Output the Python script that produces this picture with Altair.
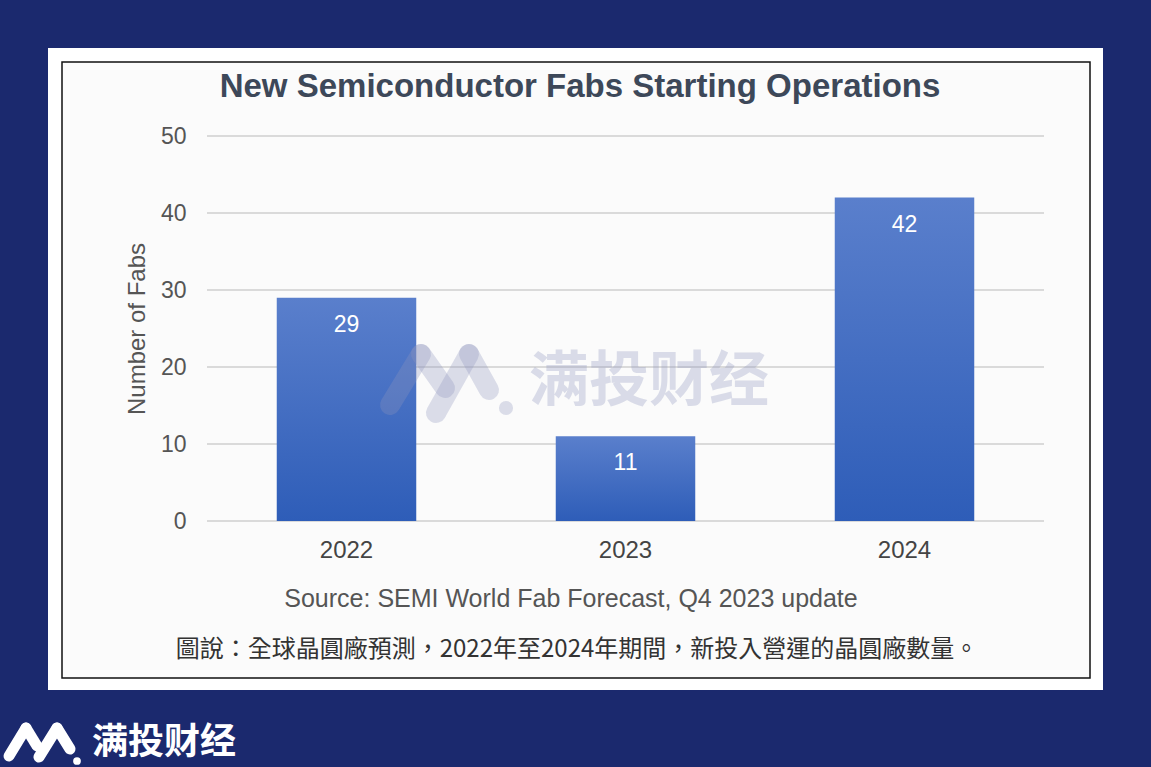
import altair as alt
import pandas as pd

# ---------------- data ----------------
years = ["2022", "2023", "2024"]
fabs = [29, 11, 42]
y_ticks = [0, 10, 20, 30, 40, 50]
title_text = "New Semiconductor Fabs Starting Operations"
y_title = "Number of Fabs"
source_text = "Source: SEMI World Fab Forecast, Q4 2023 update"
caption_text = "圖說：全球晶圓廠預測，2022年至2024年期間，新投入營運的晶圓廠數量。"
brand_text = "满投财经"

df = pd.DataFrame({"year": years, "fabs": fabs})
grid_df = pd.DataFrame({"v": y_ticks})
one = pd.DataFrame({"k": [0]})

# ---------------- layout ----------------
W, H = 837, 385          # plot area
OX, OY = 207, 136        # plot origin in the page
EN = "Liberation Sans"
CJK_TC = "Noto Sans CJK TC"
CJK_SC = "Noto Sans CJK SC"


def px(x):
    return x - OX


def py(y):
    return y - OY


xscale = alt.Scale(domain=years, paddingInner=0.5, paddingOuter=0.25)
yscale = alt.Scale(domain=[0, 50], nice=False)

yaxis = alt.Axis(values=y_ticks, grid=False, domain=False, ticks=False, zindex=1,
                 labelFont=EN, labelFontSize=23, labelColor="#555555", labelPadding=21,
                 title=y_title, titleFont=EN, titleFontSize=24, titleFontWeight="normal",
                 titleColor="#555555", titleX=-70, titleY=H / 2, titleAngle=270,
                 titleAlign="center", titleBaseline="middle")
xaxis = alt.Axis(domain=False, ticks=False, zindex=1, labelAngle=0, title=None,
                 labelFont=EN, labelFontSize=24, labelColor="#444444", labelPadding=17)


def rect(x0, y0, x1, y1, **kw):
    return alt.Chart(one).mark_rect(**kw).encode(
        x=alt.value(px(x0)), x2=alt.value(px(x1)),
        y=alt.value(py(y0)), y2=alt.value(py(y1)))


def stroke(x0, y0, x1, y1, **kw):
    return alt.Chart(one).mark_rule(strokeCap="round", **kw).encode(
        x=alt.value(px(x0)), x2=alt.value(px(x1)),
        y=alt.value(py(y0)), y2=alt.value(py(y1)))


def label(text, x, y, **kw):
    return alt.Chart(one).mark_text(align="center", baseline="middle", **kw).encode(
        x=alt.value(px(x)), y=alt.value(py(y)), text=alt.value(text))


panel = rect(48, 48, 1103, 690, color="#ffffff")
inner = rect(62, 62, 1090, 678, fill="#fbfbfb", stroke="#111111", strokeWidth=1.5)

grid = alt.Chart(grid_df).mark_rule(color="#dadada", strokeWidth=2).encode(
    y=alt.Y("v:Q", scale=yscale, axis=yaxis))

bar_fill = alt.Gradient(
    gradient="linear", x1=0, x2=0, y1=0, y2=1,
    stops=[alt.GradientStop(color="#5a7fcc", offset=0),
           alt.GradientStop(color="#2e5db8", offset=1)])

bars = alt.Chart(df).mark_bar(color=bar_fill).encode(
    x=alt.X("year:N", scale=xscale, axis=xaxis, sort=years),
    y=alt.Y("fabs:Q", scale=yscale, axis=yaxis))

values = alt.Chart(df).mark_text(color="white", font=EN, fontSize=23, dy=27,
                                 baseline="middle").encode(
    x=alt.X("year:N", scale=xscale, axis=xaxis, sort=years),
    y=alt.Y("fabs:Q", scale=yscale, axis=yaxis),
    text="fabs:Q")

title = label(title_text, 580, 87, font=EN, fontSize=33, fontWeight="bold", color="#3d4859")
source = label(source_text, 571, 599, font=EN, fontSize=25, color="#555555")
caption = label(caption_text, 577, 650, font=CJK_TC, fontSize=24, color="#333333")

# centre watermark
wm_col = "#8d95bd"
wm = [
    stroke(390, 405, 421, 354, color=wm_col, opacity=0.3, strokeWidth=20),
    stroke(421, 354, 445, 388, color=wm_col, opacity=0.3, strokeWidth=20),
    stroke(436, 413, 469, 354, color=wm_col, opacity=0.3, strokeWidth=20),
    stroke(469, 354, 489, 390, color=wm_col, opacity=0.3, strokeWidth=20),
    alt.Chart(one).mark_circle(color=wm_col, opacity=0.3, size=200).encode(
        x=alt.value(px(506)), y=alt.value(py(408))),
    label(brand_text, 649, 383, font=CJK_SC, fontSize=60, fontWeight="bold",
          color=wm_col, opacity=0.3),
]

# bottom-left logo
logo = [
    stroke(9, 756, 26, 728, color="white", strokeWidth=11),
    stroke(26, 728, 37, 746, color="white", strokeWidth=11),
    stroke(39, 757, 57, 728, color="white", strokeWidth=11),
    stroke(57, 728, 70, 749, color="white", strokeWidth=11),
    alt.Chart(one).mark_circle(color="white", opacity=1, size=60).encode(
        x=alt.value(px(77)), y=alt.value(py(761))),
    label(brand_text, 164, 743, font=CJK_SC, fontSize=36, fontWeight="bold", color="white"),
]

chart = alt.layer(panel, inner, grid, bars, values, title, source, caption, *wm, *logo).properties(
    width=W, height=H,
    padding={"left": OX, "top": OY, "right": 1151 - OX - W, "bottom": 767 - OY - H},
    autosize=alt.AutoSizeParams(type="none"),
    background="#1b296e",
).configure_view(strokeOpacity=0)

chart.save("out.html", embed_options={"renderer": "svg", "actions": False})
